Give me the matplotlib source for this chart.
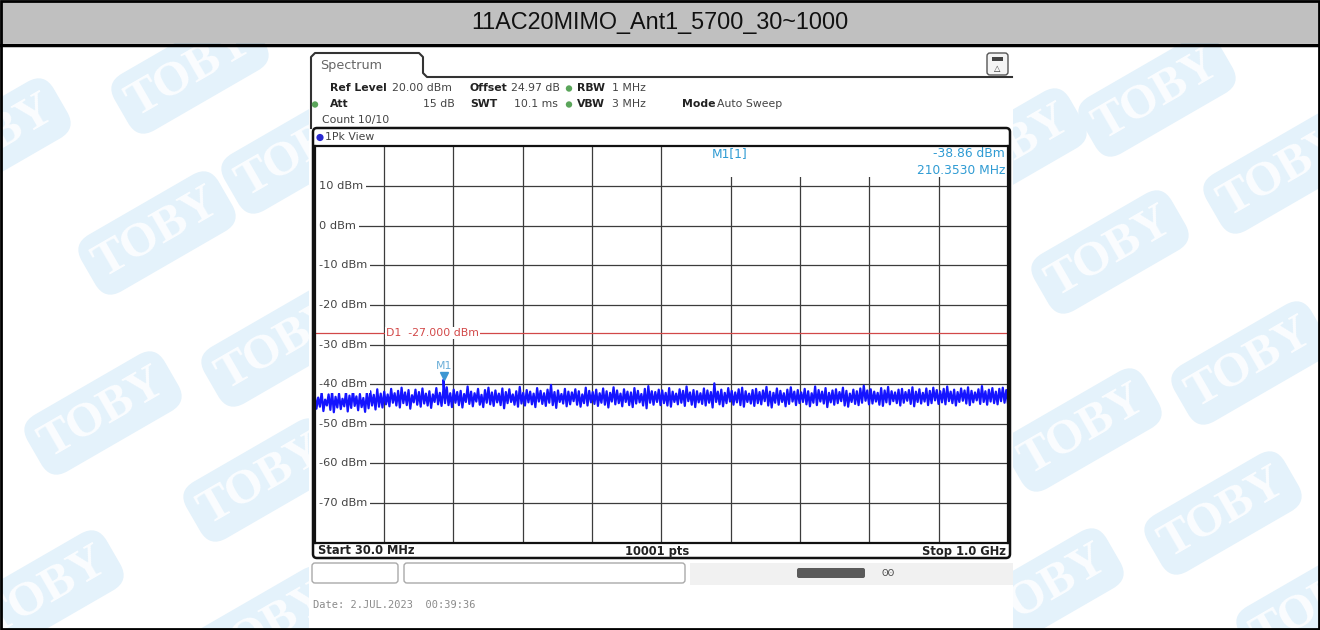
import numpy as np
import matplotlib
matplotlib.use("Agg")
import matplotlib.pyplot as plt
from matplotlib.patches import Rectangle, FancyBboxPatch, Circle
from matplotlib.lines import Line2D
from matplotlib.transforms import offset_copy, blended_transform_factory

title = "11AC20MIMO_Ant1_5700_30~1000"
start_mhz = 30.0
stop_mhz = 1000.0
ref_level = 20.0
bottom_level = -80.0
level_ticks = [10, 0, -10, -20, -30, -40, -50, -60, -70]
d1_level = -27.0
m1_freq = 210.353
m1_level = -38.86
sweep_points = 10001

# trace envelope per display bin (dBm): highest and lowest sample in each bin
peak_dbm = [
    -42.8, -43.4, -42.1, -43.9, -42.6, -41.9, -43.2, -42.4, -43.7, -42.0, -42.9, -41.6, -43.1, -42.5, -43.5, -42.2, -41.8, -42.7, -41.3, -42.4,
    -41.9, -42.6, -41.2, -42.3, -41.7, -40.9, -42.1, -41.5, -42.8, -41.4, -42.0, -41.1, -42.4, -41.8, -42.6, -41.0, -42.2, -41.6, -40.8, -42.3,
    -41.4, -42.0, -41.7, -42.5, -40.6, -41.9, -42.3, -41.2, -42.7, -41.5, -40.9, -42.1, -41.6, -42.4, -41.1, -42.0, -41.3, -42.6, -41.8, -40.7,
    -42.2, -41.5, -41.9, -42.4, -41.0, -41.7, -42.3, -41.4, -40.2, -42.0, -41.6, -42.5, -41.2, -41.9, -42.1, -41.3, -41.8, -42.6, -40.9, -41.7,
    -42.0, -41.4, -42.3, -41.1, -41.8, -42.2, -40.8, -41.6, -42.4, -41.3, -41.9, -42.1, -41.0, -41.7, -42.5, -41.2, -40.5, -41.8, -42.0, -41.4,
    -41.6, -42.2, -41.0, -41.9, -42.4, -41.3, -41.7, -40.6, -42.1, -41.5, -41.8, -42.3, -41.1, -41.6, -42.0, -39.8, -41.9, -41.4, -42.2, -41.0,
    -41.7, -42.1, -41.3, -40.9, -41.8, -42.4, -41.5, -41.2, -42.0, -41.6, -40.7, -41.9, -42.2, -41.1, -41.7, -42.3, -41.4, -40.8, -41.9, -41.5,
    -42.1, -41.2, -41.8, -42.3, -40.6, -41.5, -41.9, -41.0, -42.2, -41.6, -41.3, -42.0, -40.9, -41.7, -42.4, -41.4, -41.8, -41.1, -40.4, -41.6,
    -41.3, -41.9, -42.2, -41.0, -41.6, -40.7, -41.8, -42.1, -41.4, -41.2, -42.0, -41.5, -40.8, -41.9, -41.3, -42.2, -41.1, -41.7, -40.9, -41.5,
    -41.8, -41.2, -40.6, -41.9, -41.4, -42.0, -41.1, -41.6, -40.8, -41.7, -42.1, -41.3, -40.5, -41.8, -41.4, -41.0, -41.9, -41.2, -40.9, -41.5,
]
floor_dbm = [
    -46.2, -45.7, -46.8, -45.4, -46.5, -47.1, -45.9, -46.3, -45.6, -46.9, -46.0, -45.5, -46.6, -45.8, -47.0, -46.1, -45.4, -46.4, -45.7, -45.9,
    -45.1, -45.6, -44.7, -45.4, -45.9, -44.8, -45.3, -46.2, -44.6, -45.2, -45.7, -44.9, -45.4, -46.0, -44.5, -45.1, -45.5, -44.8, -45.3, -45.8,
    -44.7, -45.3, -45.9, -44.5, -45.0, -45.6, -44.4, -45.2, -45.8, -44.7, -45.1, -45.5, -44.6, -45.3, -46.1, -44.8, -44.5, -45.2, -45.7, -44.9,
    -45.4, -44.6, -45.1, -45.8, -44.4, -45.0, -45.5, -44.7, -45.3, -46.0, -44.5, -44.9, -45.6, -45.1, -44.3, -45.2, -45.7, -44.8, -45.4, -44.6,
    -45.0, -45.5, -44.7, -45.2, -45.9, -44.4, -45.1, -44.8, -45.6, -44.5, -45.3, -45.8, -44.9, -44.6, -45.4, -46.1, -44.7, -45.2, -44.5, -45.3,
    -44.8, -45.4, -45.7, -44.5, -45.1, -44.7, -45.5, -44.3, -45.2, -45.8, -44.6, -45.0, -45.4, -44.7, -45.9, -44.5, -45.1, -45.6, -44.8, -44.4,
    -45.2, -44.6, -45.3, -45.7, -44.5, -44.9, -45.5, -44.8, -45.1, -44.3, -45.4, -45.9, -44.7, -45.2, -44.5, -45.6, -45.0, -44.4, -45.3, -44.8,
    -44.5, -45.1, -45.6, -44.7, -45.3, -44.4, -44.9, -45.8, -44.6, -45.2, -44.8, -44.3, -45.4, -45.7, -44.5, -45.0, -45.3, -44.7, -44.2, -45.1,
    -44.9, -44.4, -45.2, -45.5, -44.6, -45.1, -44.3, -44.8, -45.4, -44.7, -44.2, -45.0, -45.6, -44.5, -44.9, -44.4, -45.3, -44.8, -44.1, -45.0,
    -44.6, -45.1, -44.3, -44.8, -45.4, -44.5, -44.2, -44.9, -45.3, -44.6, -44.1, -45.0, -44.5, -45.2, -44.4, -44.8, -45.1, -44.3, -44.7, -44.9,
]

# watermark badge centres (px)
badge_xy = [(190, 72), (-8, 140), (157, 233), (300, 152), (280, 345), (103, 413),
            (262, 480), (45, 592), (267, 628), (1157, 95), (1282, 172), (1008, 150),
            (1110, 252), (1250, 363), (1083, 430), (1223, 513), (1045, 590), (1315, 605)]

W, H = 1320, 630
# plot area in px
PX0, PX1, PY0, PY1 = 314.7, 1008.0, 146.4, 542.6

fig = plt.figure(figsize=(W / 100, H / 100), dpi=100, facecolor="white")

bg = fig.add_axes([0, 0, 1, 1], zorder=0)
bg.set_xlim(0, W)
bg.set_ylim(H, 0)
bg.axis("off")

# watermark
for bx, by in badge_xy:
    bg.text(bx, by, "TOBY", rotation=30, ha="center", va="center", rotation_mode="anchor",
            fontsize=35, fontweight="bold", family="Liberation Serif", color="#fbfdff",
            bbox=dict(boxstyle="round,pad=0.22,rounding_size=0.4", fc="#e4f2fb", ec="none"),
            zorder=1, clip_on=True)

# screenshot area
bg.add_patch(Rectangle((309, 46), 704, 582, fc="white", ec="none", zorder=2))

# title band
bg.add_patch(Rectangle((0, 0), W, 43, fc="#c0c0c0", ec="none", zorder=3))
bg.add_line(Line2D([0, W], [44.5, 44.5], color="black", lw=2.5, zorder=4))
bg.add_patch(Rectangle((1, 1), W - 2, H - 2, fill=False, ec="black", lw=2, zorder=5))
bg.text(W / 2, 22, title, ha="center", va="center", fontsize=16.8,
        family="Liberation Sans", color="#111111", zorder=5)

# spectrum tab and panel outline
tab_x = [311, 311, 315, 419, 423, 423, 427, 1012]
tab_y = [128, 57, 53, 53, 57, 73, 77, 77]
bg.add_line(Line2D(tab_x, tab_y, color="#333333", lw=1.5, zorder=4))
bg.text(320, 66, "Spectrum", ha="left", va="center", fontsize=9.2, color="#666666",
        family="DejaVu Sans", zorder=5)

# icon at the top right
bg.add_patch(FancyBboxPatch((987, 53), 21, 22, boxstyle="round,pad=0,rounding_size=3",
                            fc="#f4f4f4", ec="#555555", lw=1, zorder=4))
bg.add_patch(Rectangle((992, 57), 11, 4, fc="#444444", ec="none", zorder=5))
bg.text(997.5, 68, "\u25b3", ha="center", va="center", fontsize=6, color="#333333", zorder=5)

# setting lines
hdr = dict(fontsize=7.8, family="DejaVu Sans", va="center", zorder=5)
green = "#5aa55a"
bg.text(330, 88, "Ref Level", fontweight="bold", color="#222222", **hdr)
bg.text(392, 88, "20.00 dBm", color="#444444", **hdr)
bg.text(470, 88, "Offset", fontweight="bold", color="#222222", **hdr)
bg.text(560, 88, "24.97 dB", ha="right", color="#444444", **hdr)
bg.add_patch(Circle((569, 88.5), 3.2, fc=green, ec="none", zorder=5))
bg.text(577, 88, "RBW", fontweight="bold", color="#222222", **hdr)
bg.text(612, 88, "1 MHz", color="#444444", **hdr)

bg.add_patch(Circle((315, 104.5), 3.2, fc=green, ec="none", zorder=5))
bg.text(330, 104, "Att", fontweight="bold", color="#222222", **hdr)
bg.text(455, 104, "15 dB", ha="right", color="#444444", **hdr)
bg.text(470, 104, "SWT", fontweight="bold", color="#222222", **hdr)
bg.text(558, 104, "10.1 ms", ha="right", color="#444444", **hdr)
bg.add_patch(Circle((569, 104.5), 3.2, fc=green, ec="none", zorder=5))
bg.text(577, 104, "VBW", fontweight="bold", color="#222222", **hdr)
bg.text(612, 104, "3 MHz", color="#444444", **hdr)
bg.text(682, 104, "Mode", fontweight="bold", color="#222222", **hdr)
bg.text(717, 104, "Auto Sweep", color="#444444", **hdr)
bg.text(322, 120, "Count 10/10", color="#444444", **hdr)

# measurement window frame
bg.add_patch(FancyBboxPatch((313, 128), 697, 430, boxstyle="round,pad=0,rounding_size=4",
                            fill=False, ec="#111111", lw=1.8, zorder=4))
bg.add_patch(Circle((320, 137.5), 3.6, fc="#2a2ad0", ec="none", zorder=5))
bg.text(325, 137, "1Pk View", color="#444444", **hdr)

# sweep info below the diagram
foot = dict(fontsize=8.3, family="DejaVu Sans", fontweight="bold", va="center",
            color="#222222", zorder=5)
bg.text(318, 551, f"Start {start_mhz:.1f} MHz", ha="left", **foot)
bg.text(657, 551, f"{sweep_points} pts", ha="center", **foot)
bg.text(1006, 551, f"Stop {stop_mhz / 1000:.1f} GHz", ha="right", **foot)

# status bar
bg.add_patch(FancyBboxPatch((312, 563), 86, 20, boxstyle="round,pad=0,rounding_size=3",
                            fc="white", ec="#aaaaaa", lw=1, zorder=4))
bg.add_patch(FancyBboxPatch((404, 563), 281, 20, boxstyle="round,pad=0,rounding_size=3",
                            fc="white", ec="#aaaaaa", lw=1, zorder=4))
bg.add_patch(Rectangle((690, 563), 323, 22, fc="#f1f1f1", ec="none", zorder=4))
bg.add_patch(FancyBboxPatch((797, 568), 68, 10, boxstyle="round,pad=0,rounding_size=2",
                            fc="#5a5a5a", ec="none", zorder=5))
bg.text(888, 573, "\u0298\u0298", ha="center", va="center", fontsize=6, color="#444444", zorder=5)

bg.text(313, 605, "Date: 2.JUL.2023  00:39:36", ha="left", va="center", fontsize=7.5,
        family="DejaVu Sans Mono", color="#8a8a8a", zorder=5)

# diagram
ax = fig.add_axes([PX0 / W, 1 - PY1 / H, (PX1 - PX0) / W, (PY1 - PY0) / H], zorder=3)
ax.set_facecolor("white")
ax.set_xlim(start_mhz, stop_mhz)
ax.set_ylim(bottom_level, ref_level)
span = stop_mhz - start_mhz
ax.set_xticks([start_mhz + span * k / 10 for k in range(1, 10)])
ax.set_yticks(level_ticks)
ax.tick_params(length=0, labelbottom=False, labelleft=False)
ax.grid(True, color="#3c3c3c", lw=0.9)
for sp in ax.spines.values():
    sp.set_color("#111111")
    sp.set_linewidth(1.6)
    sp.set_zorder(5)

ylab = blended_transform_factory(ax.transAxes, ax.transData)
for lv in level_ticks:
    ax.text(0.0055, lv, f"{lv} dBm", transform=ylab, ha="left", va="center", fontsize=8.2,
            family="DejaVu Sans", color="#444444", zorder=4,
            bbox=dict(boxstyle="square,pad=0.3", fc="white", ec="none"))

# display line D1
red = "#d24848"
ax.axhline(d1_level, color=red, lw=0.9, zorder=2.1)
ax.text(0.1025, d1_level, f"D1  {d1_level:.3f} dBm", transform=ylab, ha="left", va="center",
        fontsize=7.8, family="DejaVu Sans", color=red, zorder=4,
        bbox=dict(boxstyle="square,pad=0.1", fc="white", ec="none"))

# trace: alternate bin peak / bin floor, plus the marker peak at its own frequency
level = np.column_stack([peak_dbm, floor_dbm]).ravel()
freq = np.linspace(start_mhz, stop_mhz, len(level))
pos = np.searchsorted(freq, m1_freq)
freq = np.insert(freq, pos, m1_freq)
level = np.insert(level, pos, m1_level)
ax.plot(freq, level, color="#1414ff", lw=1.6, zorder=2.2)

# marker M1
mk = "#3c96d2"
ax.plot([m1_freq], [m1_level], marker="v", ms=6, color=mk, ls="none", zorder=3,
        transform=offset_copy(ax.transData, fig, y=4, units="dots"))
ax.text(m1_freq, m1_level, "M1", transform=offset_copy(ax.transData, fig, y=14, units="dots"),
        ha="center", va="center", fontsize=7.8, family="DejaVu Sans", color="#6aaed8", zorder=3)

# marker readout
ax.add_patch(Rectangle((0.507, 0.923), 0.49, 0.075, transform=ax.transAxes,
                       fc="white", ec="none", zorder=2))
mtxt = dict(fontsize=8.8, family="DejaVu Sans", color="#2f9bd3", va="center",
            transform=ax.transAxes, zorder=4)
ax.text(0.599, 0.983, "M1[1]", ha="center", **mtxt)
ax.text(0.9955, 0.983, f"{m1_level:.2f} dBm", ha="right", **mtxt)
ax.text(0.9955, 0.940, f"{m1_freq:.4f} MHz", ha="right", **mtxt)

fig.savefig("out.png", dpi=100, facecolor="white")
